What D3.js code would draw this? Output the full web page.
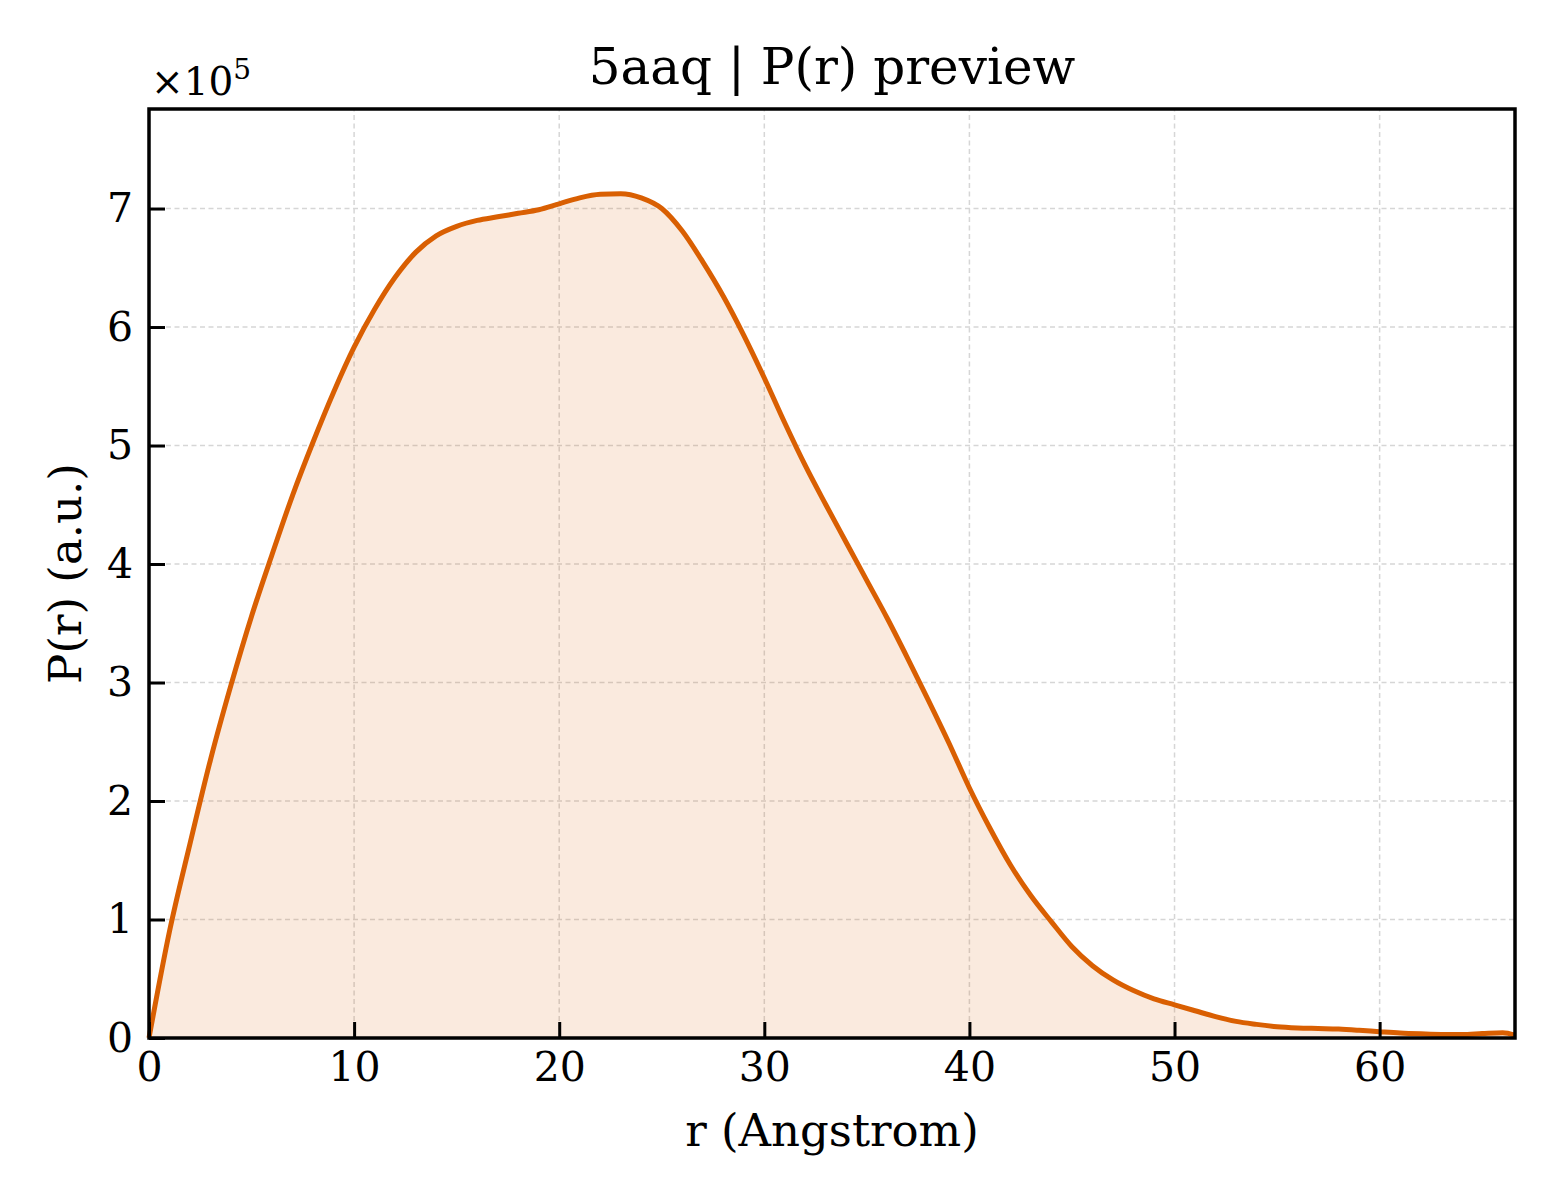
<!DOCTYPE html>
<html>
<head>
<meta charset="utf-8">
<script src="https://cdn.jsdelivr.net/npm/d3@7"></script>
<style>
  body { margin: 0; background: #fff; }
  text { font-family: "DejaVu Serif", serif; }
</style>
</head>
<body>
<div id="chart"></div>
<script>
// distance r in Angstrom
var r_vals = [0, 1, 2, 3, 4, 5, 6, 7, 8, 9,
              10, 11, 12, 13, 14, 15, 16, 17, 18, 19,
              20, 21, 22, 23, 24, 25, 26, 27, 28, 29,
              30, 31, 32, 33, 34, 35, 36, 37, 38, 39,
              40, 41, 42, 43, 44, 45, 46, 47, 48, 49,
              50, 51, 52, 53, 54, 55, 56, 57, 58, 59,
              60, 61, 62, 63, 64, 65, 66, 66.6];
// P(r) in units of 1e5
var p_vals = [0, 0.90, 1.64, 2.35, 2.98, 3.56, 4.08, 4.58, 5.03, 5.45,
              5.83, 6.15, 6.42, 6.63, 6.77, 6.85, 6.90, 6.93, 6.96, 6.99,
              7.04, 7.09, 7.12, 7.125, 7.09, 7.00, 6.81, 6.55, 6.26, 5.93,
              5.57, 5.19, 4.83, 4.50, 4.18, 3.86, 3.54, 3.20, 2.85, 2.49,
              2.11, 1.77, 1.46, 1.20, 0.98, 0.77, 0.61, 0.49, 0.40, 0.33,
              0.28, 0.23, 0.18, 0.14, 0.115, 0.095, 0.085, 0.08, 0.075, 0.065,
              0.053, 0.042, 0.035, 0.03, 0.03, 0.038, 0.045, 0.025];

var x_ticks = [0, 10, 20, 30, 40, 50, 60];
var y_ticks = [0, 1, 2, 3, 4, 5, 6, 7];

var width = 1560;
var height = 1200;
var margin = {left: 149, right: 45, top: 109, bottom: 162};
var line_colour = '#d95f02';
var grid_colour = '#d6d6d6';

var svg = d3.select('#chart').append('svg').attr('width', width).attr('height', height);

var data = r_vals.map(function(r, i){ return {r: r, p: p_vals[i]}; });

var x = d3.scaleLinear().domain([0, 66.6]).range([margin.left, width - margin.right]);
var y = d3.scaleLinear().domain([0, 7.84]).range([height - margin.bottom, margin.top]);

// grid
var grid = svg.append('g').attr('class', 'grid');
grid.selectAll('.vgrid').data(x_ticks).enter().append('line')
    .attr('x1', function(d){ return x(d); }).attr('x2', function(d){ return x(d); })
    .attr('y1', y.range()[0]).attr('y2', y.range()[1])
    .attr('stroke', grid_colour).attr('stroke-width', 1.5).attr('stroke-dasharray', '5,3.5');
grid.selectAll('.hgrid').data(y_ticks).enter().append('line')
    .attr('x1', x.range()[0]).attr('x2', x.range()[1])
    .attr('y1', function(d){ return y(d); }).attr('y2', function(d){ return y(d); })
    .attr('stroke', grid_colour).attr('stroke-width', 1.5).attr('stroke-dasharray', '5,3.5');

// filled area + line
var area = d3.area().x(function(d){ return x(d.r); }).y0(y(0)).y1(function(d){ return y(d.p); })
    .curve(d3.curveMonotoneX);
var line = d3.line().x(function(d){ return x(d.r); }).y(function(d){ return y(d.p); })
    .curve(d3.curveMonotoneX);

svg.append('path').datum(data).attr('d', area)
    .attr('fill', line_colour).attr('fill-opacity', 0.13);
svg.append('path').datum(data).attr('d', line)
    .attr('fill', 'none').attr('stroke', line_colour).attr('stroke-width', 5)
    .attr('stroke-linejoin', 'round');

// axes (ticks pointing inward)
var x_axis = d3.axisBottom(x).tickValues(x_ticks).tickSize(-16).tickPadding(14)
    .tickFormat(d3.format('d'));
var y_axis = d3.axisLeft(y).tickValues(y_ticks).tickSize(-16).tickPadding(16)
    .tickFormat(d3.format('d'));

var gx = svg.append('g').attr('transform', 'translate(0,' + y(0) + ')').call(x_axis);
var gy = svg.append('g').attr('transform', 'translate(' + x(0) + ',0)').call(y_axis);

[gx, gy].forEach(function(g){
    g.select('.domain').remove();
    g.selectAll('.tick line').attr('stroke', '#000').attr('stroke-width', 3);
    g.selectAll('.tick text').attr('fill', '#000').style('font-size', '41px')
        .style('font-family', '"DejaVu Serif", serif');
});

// frame
svg.append('rect')
    .attr('x', x.range()[0]).attr('y', y.range()[1])
    .attr('width', x.range()[1] - x.range()[0]).attr('height', y.range()[0] - y.range()[1])
    .attr('fill', 'none').attr('stroke', '#000').attr('stroke-width', 3.5);

// offset label
var off = svg.append('text').attr('x', 151).attr('y', 95).style('font-size', '39px').attr('fill', '#000');
off.append('tspan').text('\u00d710');
off.append('tspan').attr('dy', -16).style('font-size', '28px').text('5');

// title and labels
svg.append('text').attr('x', (x.range()[0] + x.range()[1]) / 2).attr('y', 84)
    .attr('text-anchor', 'middle').style('font-size', '50px').attr('fill', '#000')
    .text('5aaq | P(r) preview');

svg.append('text').attr('x', (x.range()[0] + x.range()[1]) / 2).attr('y', 1146)
    .attr('text-anchor', 'middle').style('font-size', '45px').attr('fill', '#000')
    .text('r (Angstrom)');

svg.append('text')
    .attr('transform', 'translate(81,' + ((y.range()[0] + y.range()[1]) / 2) + ') rotate(-90)')
    .attr('text-anchor', 'middle').style('font-size', '45px').attr('fill', '#000')
    .text('P(r) (a.u.)');
</script>
</body>
</html>
